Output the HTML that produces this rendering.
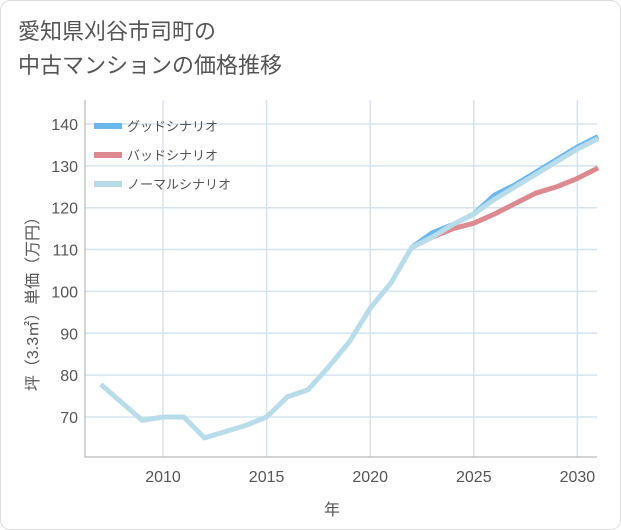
<!DOCTYPE html>
<html><head><meta charset="utf-8"><style>
body{margin:0;background:#fff;}
.wrap{position:relative;width:619px;height:528px;border:1px solid #ddd;border-radius:10px;overflow:hidden;background:#fff;font-family:"Liberation Sans","Noto Sans CJK JP",sans-serif;}
.title{position:absolute;left:17px;top:14px;font-size:22px;line-height:34px;color:#555;}
</style></head><body>
<div class="wrap">
<div class="title">愛知県刈谷市司町の<br>中古マンションの価格推移</div>
<svg id="c" width="621" height="530" style="position:absolute;left:-1px;top:-1px"></svg>
</div>
<script>
const years=[2007,2008,2009,2010,2011,2012,2013,2014,2015,2016,2017,2018,2019,2020,2021,2022,2023,2024,2025,2026,2027,2028,2029,2030,2031];
const normal=[77.8,73.5,69.2,70,70,65,66.5,68,70,74.8,76.5,82,88,96,102,110.5,113,116,118.5,122,125,128,131,134,136.5];
const futYears=[2022,2023,2024,2025,2026,2027,2028,2029,2030,2031];
const good=[110.5,114,116,118.5,123,125.5,128.5,131.5,134.5,137];
const bad=[110.5,113,115,116.3,118.5,121,123.5,125,127,129.5];
const yTicks=[70,80,90,100,110,120,130,140];
const xTicks=[2010,2015,2020,2025,2030];
const L=85,R=597,T=100,B=457;
const X=y=>163+(y-2010)*20.72;
const Y=v=>417-(v-70)*4.186;
const svg=document.getElementById('c');const NS='http://www.w3.org/2000/svg';
function mk(t,a,p){const e=document.createElementNS(NS,t);for(const k in a)e.setAttribute(k,a[k]);(p||svg).appendChild(e);return e;}
xTicks.forEach(t=>{const l=mk('line',{x1:X(t),x2:X(t),y1:T,y2:B,stroke:'#d5e3ee','stroke-width':1.5});

const tx=mk('text',{x:X(t),y:482,'text-anchor':'middle','font-size':16,fill:'#555'});tx.textContent=t;
});
yTicks.forEach(t=>{const l=mk('line',{x1:L,x2:R,y1:Y(t),y2:Y(t),stroke:'#d5e3ee','stroke-width':1.5});

const tx=mk('text',{x:78,y:Y(t)+6,'text-anchor':'end','font-size':16,fill:'#555'});tx.textContent=t;
});
const ax=mk('path',{d:`M${L},${T}V${B}H${R}`,fill:'none',stroke:'#aaa','stroke-width':1});

const xt=mk('text',{x:332,y:515,'text-anchor':'middle','font-size':16,fill:'#555'});xt.textContent='年';

const yt=mk('text',{x:0,y:0,'text-anchor':'middle','font-size':16,fill:'#555',transform:'translate(38,300) rotate(-90)'});yt.textContent='坪（3.3㎡）単価（万円）';

function line(xs,vs,col,name){const d=xs.map((x,i)=>(i?'L':'M')+X(x)+','+Y(vs[i])).join('');
const p=mk('path',{d,fill:'none',stroke:col,'stroke-width':5,'stroke-linejoin':'round'});
}
line(futYears,bad,'#dc8990','bad-scenario-line');
line(futYears,good,'#6cb8ec','good-scenario-line');
line(years,normal,'#b8dcea','normal-scenario-line');
[['グッドシナリオ','#6cb8ec'],['バッドシナリオ','#dc8990'],['ノーマルシナリオ','#b8dcea']].forEach((e,i)=>{
const y=126+i*29;const g=mk('g',{});
mk('rect',{x:94,y:y-3,width:28,height:6,fill:e[1]},g);
const t=mk('text',{x:127,y:y+5,'font-size':13,fill:'#555'},g);t.textContent=e[0];});
</script>
</body></html>
